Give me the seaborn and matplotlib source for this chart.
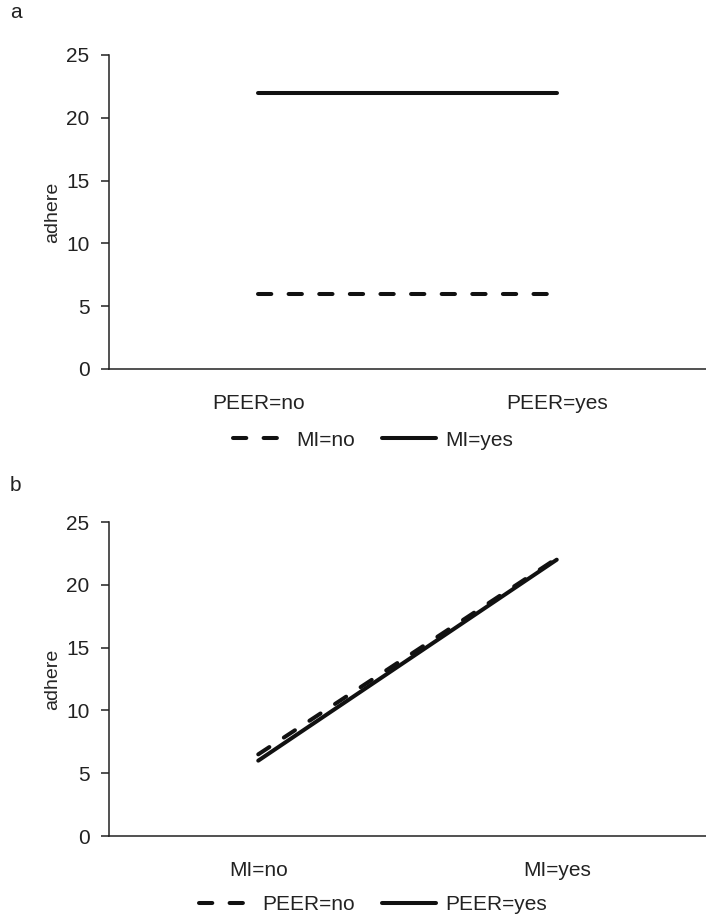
import matplotlib
matplotlib.use("Agg")
import matplotlib.pyplot as plt
import seaborn as sns
import pandas as pd

# Panel a data
a_categories = ["PEER=no", "PEER=yes"]
a_series = ["MI=no", "MI=yes"]
a_mi_no = [6.0, 6.0]
a_mi_yes = [22.0, 22.0]

# Panel b data
b_categories = ["MI=no", "MI=yes"]
b_series = ["PEER=no", "PEER=yes"]
b_peer_no = [6.5, 22.1]
b_peer_yes = [6.0, 22.0]

y_ticks = [0, 5, 10, 15, 20, 25]

sns.set_style("white")
plt.rcParams["font.family"] = ["Liberation Sans", "DejaVu Sans"]
FS = 15

W, H = 706, 915
fig = plt.figure(figsize=(W / 100, H / 100), dpi=100)


def build_df(cats, names, vals_list):
    rows = []
    for n, vals in zip(names, vals_list):
        for c, v in zip(cats, vals):
            rows.append({"cat": c, "val": v, "series": n})
    return pd.DataFrame(rows)


def panel(rect, cats, names, vals_list, letter, letter_xy, legend_y):
    ax = fig.add_axes(rect)
    df = build_df(cats, names, vals_list)
    dashes = {names[0]: (3.3, 4.3), names[1]: ""}
    sns.lineplot(data=df, x="cat", y="val", style="series", style_order=names,
                 dashes=dashes, color="black", linewidth=2.9, ax=ax,
                 legend=True, sort=False)
    for ln in ax.get_lines():
        ln.set_solid_capstyle("round")
        ln.set_dash_capstyle("round")
        ln.set_color("#111111")
    ax.set_xlim(-0.5, 1.5)
    ax.set_ylim(0, 25)
    ax.set_yticks(y_ticks)
    ax.set_yticklabels([str(t) for t in y_ticks], fontsize=FS)
    ax.set_xticks([0, 1])
    ax.set_xticklabels(cats, fontsize=FS)
    ax.set_xlabel("")
    ax.set_ylabel("adhere", fontsize=FS - 1, labelpad=4)
    for s in ["top", "right"]:
        ax.spines[s].set_visible(False)
    for s in ["left", "bottom"]:
        ax.spines[s].set_color("#222222")
        ax.spines[s].set_linewidth(1.1)
    ax.tick_params(axis="y", which="both", left=True, length=6, width=1.1,
                   color="#222222", pad=8, labelcolor="#222222")
    ax.tick_params(axis="x", which="both", bottom=False, length=0, pad=18,
                   labelcolor="#222222")
    handles, labels = ax.get_legend_handles_labels()
    ax.get_legend().remove()
    leg = fig.legend(handles, labels, loc="center",
                     bbox_to_anchor=(373 / W, 1 - legend_y / H),
                     bbox_transform=fig.transFigure, ncol=2, frameon=False,
                     fontsize=FS, handlelength=2.6, handletextpad=0.45,
                     columnspacing=1.3)
    for t in leg.get_texts():
        t.set_color("#222222")
    fig.text(letter_xy[0] / W, 1 - letter_xy[1] / H, letter, fontsize=FS,
             ha="left", va="center", color="#222222")
    return ax


left = 109 / W
width = (W - 109) / W
h = 314 / H
panel([left, 1 - 369 / H, width, h], a_categories, a_series,
      [a_mi_no, a_mi_yes], "a", (10, 13), 440)
panel([left, 1 - 836 / H, width, h], b_categories, b_series,
      [b_peer_no, b_peer_yes], "b", (10, 486), 905)

fig.savefig("out.png", dpi=100)
